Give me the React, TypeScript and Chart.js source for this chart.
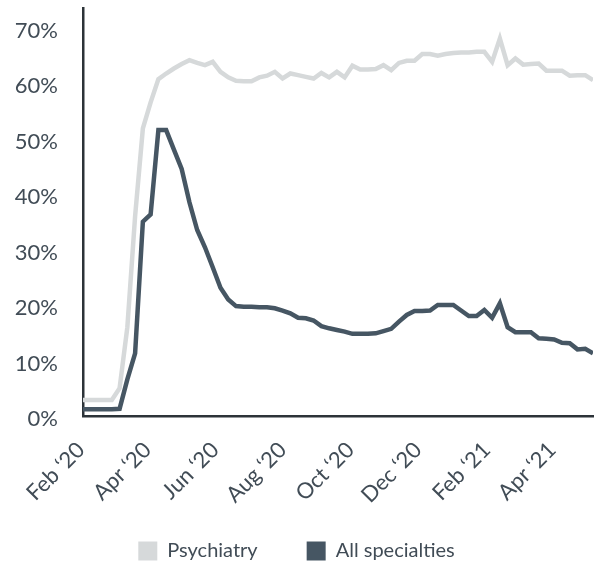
import { useEffect, useRef } from "react";
import { Chart, registerables } from "chart.js";

Chart.register(...registerables);

// Weekly series, first week starting 2020-01-30
const firstWeek = "2020-01-30";

const psychiatry = [
  2.9, 2.9, 2.9, 2.9, 2.9, 5.0, 16.0, 36.0, 51.8, 56.5,
  60.7, 61.7, 62.6, 63.4, 64.1, 63.6, 63.2, 63.8, 62.0, 61.0,
  60.4, 60.3, 60.3, 61.0, 61.3, 62.0, 60.8, 61.7, 61.4, 61.1,
  60.8, 61.8, 61.0, 62.0, 61.0, 63.1, 62.4, 62.4, 62.5, 63.2,
  62.3, 63.6, 64.0, 64.0, 65.2, 65.2, 64.9, 65.2, 65.4, 65.5,
  65.5, 65.6, 65.6, 63.8, 68.0, 63.2, 64.4, 63.3, 63.4, 63.5,
  62.2, 62.2, 62.2, 61.3, 61.4, 61.4, 60.5,
];

const allSpecialties = [
  1.2, 1.2, 1.2, 1.2, 1.2, 1.3, 6.6, 11.3, 35.0, 36.3,
  51.5, 51.5, 48.0, 44.5, 38.5, 33.5, 30.4, 26.8, 23.1, 21.0,
  19.8, 19.7, 19.7, 19.6, 19.6, 19.4, 19.0, 18.5, 17.7, 17.6,
  17.2, 16.2, 15.8, 15.5, 15.2, 14.8, 14.8, 14.8, 14.9, 15.3,
  15.7, 17.0, 18.2, 18.9, 18.9, 19.0, 20.0, 20.0, 20.0, 19.0,
  18.0, 18.0, 19.1, 17.7, 20.3, 16.0, 15.1, 15.1, 15.1, 14.0,
  13.9, 13.8, 13.2, 13.1, 12.0, 12.1, 11.3,
];

const tickDates = [
  "2020-02-01", "2020-04-01", "2020-06-01", "2020-08-01",
  "2020-10-01", "2020-12-01", "2021-02-01", "2021-04-01",
];
const tickLabels = [
  "Feb \u201820", "Apr \u201820", "Jun \u201820", "Aug \u201820",
  "Oct \u201820", "Dec \u201820", "Feb \u201821", "Apr \u201821",
];
const yTicks = [0, 10, 20, 30, 40, 50, 60, 70];
const yMax = 73.5;

const seriesNames = ["Psychiatry", "All specialties"];
const seriesColors = ["#d6d9da", "#465663"];

const WEEK_MS = 7 * 24 * 3600 * 1000;
const toWeek = (d: string) => (Date.parse(d) - Date.parse(firstWeek)) / WEEK_MS;
const tickWeeks = tickDates.map(toWeek);

const FONT = "Lato, 'Open Sans', sans-serif";
const TEXT_COLOR = "#414c56";
const AXIS_COLOR = "#2c3338";

export default function App() {
  const ref = useRef<HTMLCanvasElement | null>(null);

  useEffect(() => {
    if (!ref.current) return;
    const toPts = (arr: number[]) => arr.map((y, i) => ({ x: i, y }));
    const chart = new Chart(ref.current, {
      type: "line",
      data: {
        datasets: [
          {
            label: seriesNames[0],
            data: toPts(psychiatry),
            borderColor: seriesColors[0],
            backgroundColor: seriesColors[0],
            borderWidth: 4.5,
            pointRadius: 0,
            tension: 0,
            order: 1,
          },
          {
            label: seriesNames[1],
            data: toPts(allSpecialties),
            borderColor: seriesColors[1],
            backgroundColor: seriesColors[1],
            borderWidth: 4.5,
            pointRadius: 0,
            tension: 0,
            order: 0,
          },
        ],
      },
      options: {
        responsive: false,
        animation: false,
        events: [],
        layout: { padding: { left: 0, right: 1, top: 8, bottom: -4 } },
        scales: {
          x: {
            type: "linear",
            min: tickWeeks[0],
            max: psychiatry.length - 1,
            grid: { display: false, drawTicks: false },
            border: { display: true, color: AXIS_COLOR, width: 2.5 },
            afterBuildTicks: (s: any) => {
              s.ticks = tickWeeks.map((v) => ({ value: v }));
            },
            afterFit: (s: any) => {
              s.height = 76;
              s.paddingLeft = 0;
              s.paddingRight = 0;
              s._computeLabelArea = () => undefined;
            },
            ticks: {
              autoSkip: false,
              minRotation: 45,
              maxRotation: 45,
              padding: 21,
              labelOffset: -2,
              color: TEXT_COLOR,
              font: { family: FONT, size: 22 },
              callback: (_v: any, i: number) => tickLabels[i],
            },
          },
          y: {
            type: "linear",
            min: 0,
            max: yMax,
            grid: { display: false, drawTicks: false },
            border: { display: true, color: AXIS_COLOR, width: 2.5 },
            afterBuildTicks: (s: any) => {
              s.ticks = yTicks.map((v) => ({ value: v }));
            },
            afterFit: (s: any) => {
              s.width = 83;
              s.paddingTop = 0;
              s.paddingBottom = 0;
            },
            ticks: {
              padding: 25,
              labelOffset: 3,
              color: TEXT_COLOR,
              font: { family: FONT, size: 22 },
              callback: (v: any) => v + "%",
            },
          },
        },
        plugins: {
          tooltip: { enabled: false },
          legend: {
            position: "bottom",
            labels: {
              boxWidth: 19,
              boxHeight: 19,
              padding: 49,
              color: TEXT_COLOR,
              font: { family: FONT, size: 20 },
              sort: (a: any, b: any) => a.datasetIndex - b.datasetIndex,
              generateLabels: (c: any) =>
                (Chart.defaults.plugins.legend.labels as any)
                  .generateLabels(c)
                  .map((l: any) => ({ ...l, lineWidth: 0, fillStyle: l.strokeStyle })),
            },
          },
        },
      },
    });
    return () => chart.destroy();
  }, []);

  return (
    <div style={{ position: "absolute", left: 0, top: 0, width: 594, height: 567 }}>
      <canvas ref={ref} width={594} height={567} style={{ display: "block" }} />
    </div>
  );
}
